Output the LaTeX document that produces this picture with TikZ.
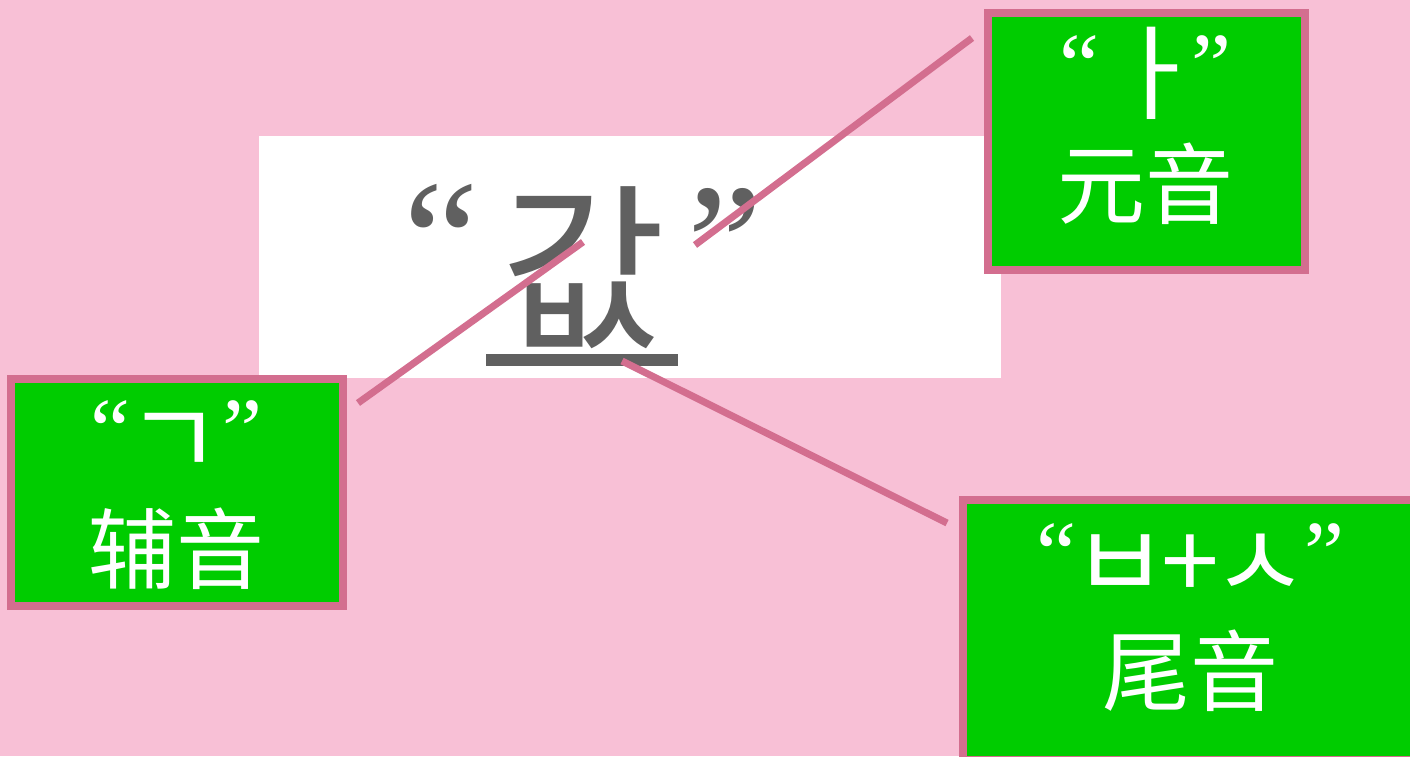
\documentclass[tikz,border=0pt]{standalone}
\usepackage{fontspec}
\setmainfont{Liberation Serif}
\newfontfamily\krfont{Noto Sans CJK KR}
\newfontfamily\zhfont{Noto Sans CJK SC}
\definecolor{bgpink}{HTML}{F8C0D6}
\definecolor{rose}{HTML}{D36E8F}
\definecolor{leaf}{HTML}{00CC00}
\definecolor{ink}{HTML}{606060}
\tikzset{
  labelbox/.style={draw=rose, line width=8pt, fill=leaf, inner sep=0pt},
  whitebox/.style={fill=white, inner sep=0pt, minimum width=742pt, minimum height=242pt},
  connector/.style={draw=rose, line width=7pt},
  bigq/.style={text=ink, inner sep=0pt, font=\fontsize{170}{170}\selectfont},
  bigk/.style={text=ink, inner sep=0pt, font=\krfont\fontsize{180}{180}\selectfont},
  underl/.style={draw=ink, line width=12pt},
  jamoline/.style={text=white, inner sep=0pt, anchor=base},
  hanline/.style={text=white, inner sep=0pt, anchor=base, font=\zhfont\fontsize{88}{88}\selectfont},
}
\newcommand{\myLq}{{\fontsize{90}{90}\selectfont “}}
\newcommand{\myRq}{{\fontsize{90}{90}\selectfont ”}}
\newcommand{\myJm}[2][70pt]{\makebox[#1]{\raisebox{-16pt}{\krfont\fontsize{104}{104}\selectfont #2}}}
\begin{document}
\begin{tikzpicture}[x=1pt,y=-1pt]
\fill[bgpink] (0,0) rectangle (1410,756);
\useasboundingbox (0,0) rectangle (1410,756);
% central word
\node[whitebox] (w) at (630,257) {};
\node[bigq, anchor=base west] (q1) at (403,297) {“};
\node[bigk, anchor=base] (k) at (583,335) {값};
\node[bigq, anchor=base west] (q2) at (687,301) {”};
\coordinate (u1) at (486,360);
\coordinate (u2) at (678,360);
\draw[underl] (u1) -- (u2);
% label boxes
\node[labelbox, minimum width=317pt, minimum height=257pt] (vowel) at (1146.5,141.5) {};
\node[labelbox, minimum width=332pt, minimum height=227pt] (cons) at (177,492.5) {};
\node[labelbox, minimum width=454pt, minimum height=260pt] (final) at (1190,630) {};
\node[jamoline] (vj) at (1145,95) {\myLq\hspace{30pt}\myJm[50pt]{ㅏ}\hspace{12pt}\myRq};
\node[hanline] (vh) at (1145,217) {元音};
\node[jamoline] (cj) at (176,460) {\myLq\hspace{9pt}\myJm{ㄱ}\hspace{13pt}\myRq};
\node[hanline] (ch) at (176,582) {辅音};
\node[jamoline] (fj) at (1190,583) {\myLq\hspace{9pt}\myJm{ㅂ}\myJm{+}\myJm{ㅅ}\hspace{9pt}\myRq};
\node[hanline] (fh) at (1190,704) {尾音};
% connectors
\coordinate (c1a) at (358,403);
\coordinate (c1b) at (583,242);
\coordinate (c2a) at (695,245);
\coordinate (c2b) at (972,38);
\coordinate (c3a) at (622,361);
\coordinate (c3b) at (947,523);
\draw[connector] (c1a) -- (c1b);
\draw[connector] (c2a) -- (c2b);
\draw[connector] (c3a) -- (c3b);
\end{tikzpicture}
\end{document}
